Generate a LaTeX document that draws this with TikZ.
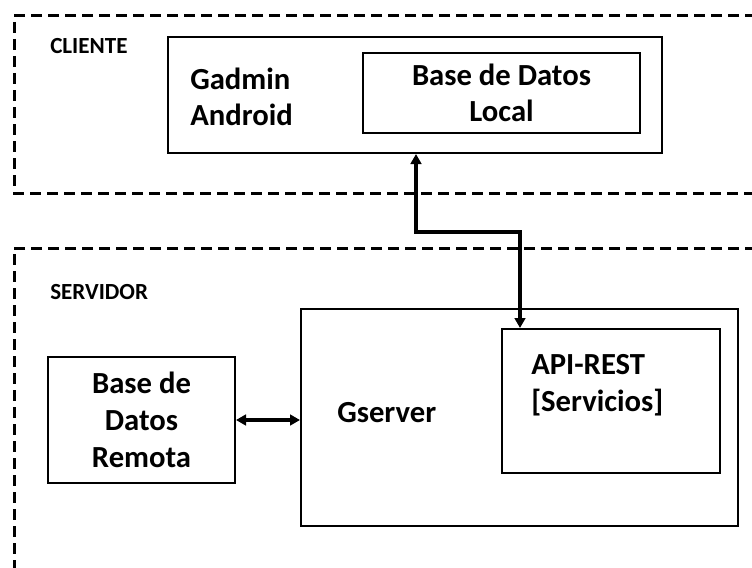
\documentclass[tikz,border=0pt]{standalone}
\usepackage{fontspec}
\setmainfont{Carlito}
\usetikzlibrary{arrows.meta}
\tikzset{
  zone/.style={draw, line width=2.25pt, dash pattern=on 8.25pt off 4.5pt},
  box/.style={draw, line width=1.5pt, inner sep=0pt},
  zonelabel/.style={font=\fontsize{17.3}{20}\selectfont\bfseries, anchor=west, inner sep=0pt},
  boxtext/.style={font=\fontsize{23}{27.5}\selectfont\bfseries, inner sep=0pt},
  link/.style={line width=2.4pt, {Triangle[length=7.5pt,width=8pt]}-{Triangle[length=7.5pt,width=8pt]}},
}
\begin{document}
\begin{tikzpicture}[x=0.75pt, y=-0.75pt]
\useasboundingbox (0,0) rectangle (752,567);
\clip (0,0) rectangle (752,567);
% zones
\draw[zone] (790,16) -- (14,16) -- (14,193) -- (790,193);
\draw[zone] (790,248) -- (14,248) -- (14,600);
\node[zonelabel] (cliente) at (50,46) {CLIENTE};
\node[zonelabel] (servidor) at (50,292) {SERVIDOR};
% client
\node[box, minimum width=370.5pt, minimum height=87pt] (gadmin) at (415,95) {};
\node[boxtext, anchor=west, align=left] (gadmintxt) at (190,97) {Gadmin\\Android};
\node[box, minimum width=207.75pt, minimum height=60pt, boxtext, align=center] (bdlocal) at (501.5,93) {Base de Datos\\Local};
% server
\node[box, minimum width=140.25pt, minimum height=94.5pt, boxtext, align=center] (remota) at (141.5,420) {Base de\\Datos\\Remota};
\node[box, minimum width=327.75pt, minimum height=162.75pt] (gserver) at (519.5,417.5) {};
\node[boxtext, anchor=west] (gservertxt) at (337,413) {Gserver};
\node[box, minimum width=163.5pt, minimum height=108pt] (api) at (611,401) {};
\node[boxtext, anchor=west, align=left] (apitxt) at (531,385) {API-REST\\{[Servicios]}};
% connectors
\coordinate (c1) at (416,232);
\coordinate (c2) at (520,232);
\draw[link] (gadmin.south -| c1) -- (c1) -- (c2) -- (c2 |- api.north);
\draw[link] (remota.east) -- (remota.east -| gserver.west);
\end{tikzpicture}
\end{document}
